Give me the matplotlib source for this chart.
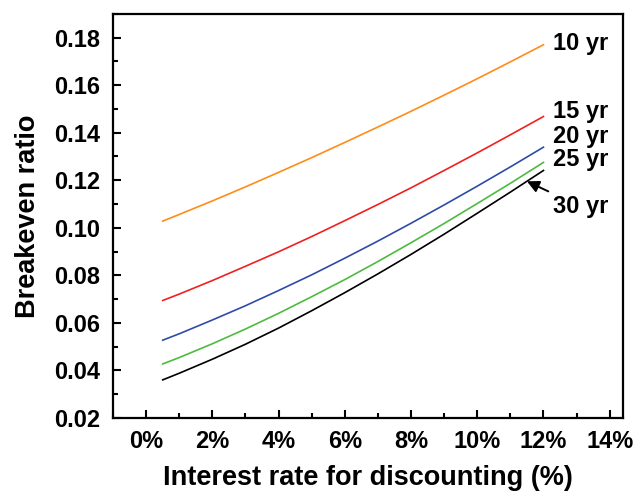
import matplotlib
matplotlib.use("Agg")
import matplotlib.pyplot as plt
from matplotlib.ticker import MultipleLocator, FuncFormatter

rates = [0.5, 1, 2, 3, 4, 5, 6, 7, 8, 9, 10, 11, 12]
yr10 = [0.1028, 0.1056, 0.1113, 0.1172, 0.1233, 0.1295, 0.1359, 0.1424, 0.1490, 0.1558, 0.1627, 0.1698, 0.1770]
yr15 = [0.0694, 0.0721, 0.0778, 0.0838, 0.0899, 0.0963, 0.1030, 0.1098, 0.1168, 0.1241, 0.1315, 0.1391, 0.1468]
yr20 = [0.0527, 0.0554, 0.0612, 0.0672, 0.0736, 0.0802, 0.0872, 0.0944, 0.1019, 0.1096, 0.1175, 0.1256, 0.1339]
yr25 = [0.0427, 0.0454, 0.0512, 0.0574, 0.0640, 0.0710, 0.0782, 0.0858, 0.0937, 0.1018, 0.1102, 0.1187, 0.1275]
yr30 = [0.0360, 0.0388, 0.0447, 0.0510, 0.0578, 0.0651, 0.0727, 0.0806, 0.0888, 0.0973, 0.1061, 0.1150, 0.1241]
series_labels = ["10 yr", "15 yr", "20 yr", "25 yr", "30 yr"]
colors = ["#FF8C1A", "#F02020", "#2E4BA8", "#4DBB3F", "#000000"]

plt.rcParams['font.family'] = ['Liberation Sans', 'DejaVu Sans']
plt.rcParams['font.weight'] = 'bold'

fig = plt.figure(figsize=(6.35, 4.94), dpi=100)
ax = fig.add_axes([0.178, 0.154, 0.803, 0.818])

for ys, c in zip([yr10, yr15, yr20, yr25, yr30], colors):
    ax.plot(rates, ys, color=c, lw=1.2)

ax.set_xlim(-1, 14.4)
ax.set_ylim(0.02, 0.19)
ax.xaxis.set_major_locator(MultipleLocator(2))
ax.xaxis.set_minor_locator(MultipleLocator(1))
ax.yaxis.set_major_locator(MultipleLocator(0.02))
ax.yaxis.set_minor_locator(MultipleLocator(0.01))
ax.xaxis.set_major_formatter(FuncFormatter(lambda v, p: f"{v:.0f}%"))
ax.yaxis.set_major_formatter(FuncFormatter(lambda v, p: f"{v:.2f}"))
ax.tick_params(which='both', direction='in', width=1.5, labelsize=17)
ax.tick_params(which='major', length=6)
ax.tick_params(which='minor', length=3.5)
ax.tick_params(axis='x', pad=9)
ax.tick_params(axis='y', pad=9)
for lbl in ax.get_xticklabels() + ax.get_yticklabels():
    lbl.set_fontweight('bold')
for s in ax.spines.values():
    s.set_linewidth(1.6)

ax.set_xlabel("Interest rate for discounting (%)", fontsize=19.5, fontweight='bold', labelpad=8)
ax.set_ylabel("Breakeven ratio", fontsize=19.5, fontweight='bold', labelpad=10)

label_y = [0.1775, 0.1490, 0.1385, 0.1288, 0.1088]
for txt, ly in zip(series_labels[:4], label_y[:4]):
    ax.text(12.3, ly, txt, fontsize=17, fontweight='bold', va='center', ha='left')
ax.annotate(series_labels[4], xy=(11.5, yr30[-2] + 0.5 * (yr30[-1] - yr30[-2])),
            xytext=(12.3, label_y[4]), fontsize=17, fontweight='bold', va='center', ha='left',
            arrowprops=dict(arrowstyle='-|>', color='black', lw=1.4, mutation_scale=18,
                            shrinkA=2, shrinkB=0))

fig.savefig("out.png", dpi=100)
